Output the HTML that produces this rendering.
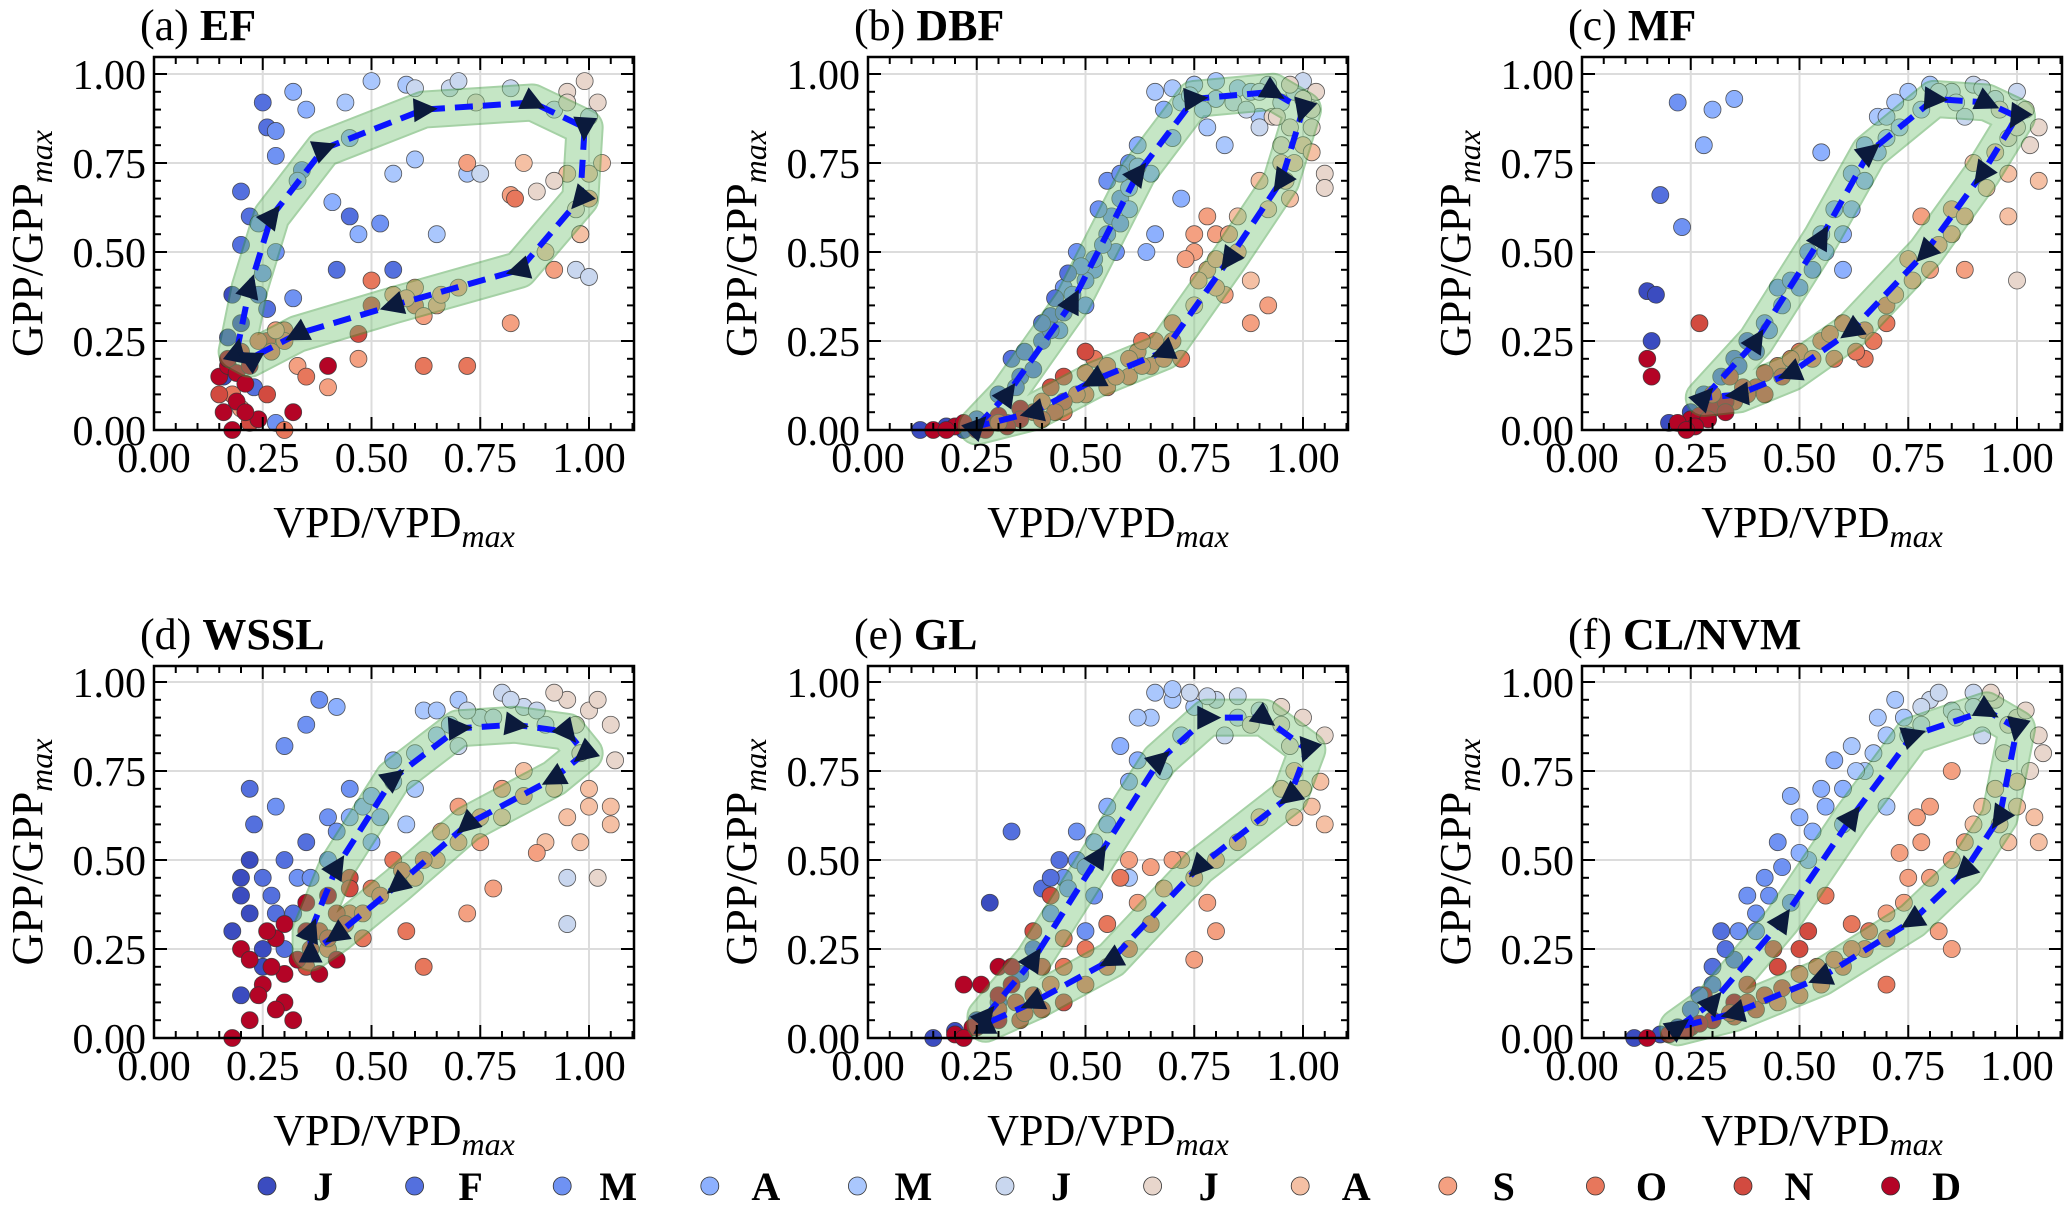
<!DOCTYPE html>
<html><head><meta charset="utf-8"><style>
html,body{margin:0;padding:0;background:#fff;}
svg{display:block;font-family:"Liberation Serif",serif;}
</style></head><body>
<svg id="chart" width="2067" height="1208" viewBox="0 0 2067 1208" xmlns="http://www.w3.org/2000/svg"></svg>
<script>
// ---------- data ----------
const monthLabels=["J","F","M","A","M","J","J","A","S","O","N","D"];
const monthColors=["#3b4cc0","#5470de","#6f92f3","#8db0fe","#aac7fd","#c9d7ef","#e8d6cc","#f5c0a4","#f4a081","#e7775c","#d24b40","#b40426"];
const panelTitles=[["(a) ","EF"],["(b) ","DBF"],["(c) ","MF"],["(d) ","WSSL"],["(e) ","GL"],["(f) ","CL/NVM"]];
const xTicks=[0,0.25,0.5,0.75,1.0];
const yTicks=[0,0.25,0.5,0.75,1.0];
const tickText=["0.00","0.25","0.50","0.75","1.00"];

const ptsA=[[0.17,0.26,0],[0.18,0.38,0],[0.2,0.3,0],[0.16,0.15,0],[0.2,0.67,1],[0.22,0.6,1],[0.2,0.52,1],[0.24,0.38,1],[0.26,0.34,1],[0.25,0.92,1],[0.26,0.85,1],[0.23,0.12,1],[0.28,0.84,2],[0.24,0.58,2],[0.28,0.5,2],[0.25,0.44,2],[0.28,0.77,2],[0.32,0.37,2],[0.34,0.73,2],[0.42,0.45,1],[0.45,0.6,1],[0.55,0.45,1],[0.52,0.58,2],[0.28,0.02,2],[0.32,0.95,3],[0.35,0.9,3],[0.33,0.7,3],[0.41,0.64,3],[0.47,0.55,3],[0.44,0.92,4],[0.5,0.98,4],[0.58,0.97,4],[0.55,0.72,4],[0.6,0.76,4],[0.65,0.55,4],[0.45,0.82,3],[0.72,0.72,4],[0.68,0.96,5],[0.7,0.98,5],[0.82,0.96,5],[0.75,0.72,5],[0.92,0.9,5],[1.0,0.88,5],[0.98,0.55,5],[0.97,0.45,5],[1.0,0.43,5],[0.74,0.92,6],[0.95,0.95,6],[1.02,0.92,6],[0.97,0.62,6],[0.88,0.67,6],[0.85,0.75,7],[0.95,0.72,7],[1.03,0.75,7],[0.98,0.55,7],[0.9,0.5,7],[0.72,0.75,8],[0.82,0.66,8],[0.6,0.4,8],[0.65,0.35,8],[0.55,0.38,8],[0.82,0.3,8],[0.92,0.45,8],[1.0,0.65,8],[0.47,0.2,8],[0.4,0.12,8],[0.33,0.18,8],[0.2,0.06,8],[0.83,0.65,9],[0.5,0.42,9],[0.6,0.35,9],[0.3,0.28,9],[0.35,0.15,9],[0.18,0.1,9],[0.3,0.0,9],[0.62,0.18,9],[0.72,0.18,9],[0.15,0.1,10],[0.26,0.25,10],[0.47,0.27,10],[0.5,0.35,10],[0.22,0.02,10],[0.15,0.15,11],[0.17,0.18,11],[0.19,0.16,11],[0.21,0.13,11],[0.16,0.05,11],[0.24,0.03,11],[0.32,0.05,11],[0.4,0.18,11],[0.18,0.0,11]];
const extraA=[[0.17,0.2,11],[0.2,0.22,10],[0.22,0.18,11],[0.24,0.25,9],[0.27,0.22,9],[0.3,0.25,9],[0.19,0.08,11],[0.21,0.05,11],[0.26,0.1,10],[0.28,0.28,8],[0.62,0.32,8],[0.58,0.37,8],[0.66,0.38,8],[0.7,0.4,8],[0.6,0.96,5],[0.95,0.92,6],[0.99,0.98,6],[0.92,0.7,6],[1.0,0.72,7]];
const ptsB=[[0.12,0,0],[0.18,0.01,0],[0.22,0.0,0],[0.25,0.03,1],[0.3,0.1,1],[0.35,0.15,1],[0.33,0.2,1],[0.4,0.25,1],[0.42,0.32,1],[0.38,0.17,1],[0.45,0.4,2],[0.48,0.5,2],[0.52,0.45,2],[0.55,0.55,2],[0.5,0.35,2],[0.58,0.65,2],[0.6,0.75,2],[0.57,0.5,2],[0.44,0.28,2],[0.55,0.7,2],[0.62,0.8,3],[0.6,0.62,3],[0.65,0.72,3],[0.68,0.9,3],[0.7,0.82,3],[0.66,0.55,3],[0.72,0.65,3],[0.64,0.5,3],[0.75,0.97,4],[0.8,0.93,4],[0.78,0.85,4],[0.85,0.96,4],[0.72,0.92,4],[0.9,0.88,4],[0.88,0.95,4],[0.82,0.8,4],[0.92,0.97,5],[0.95,0.92,5],[0.98,0.95,5],[0.9,0.85,5],[1.0,0.98,5],[0.97,0.85,6],[1.02,0.9,6],[0.95,0.8,6],[1.05,0.72,6],[1.03,0.95,6],[0.93,0.88,6],[1.0,0.8,7],[0.95,0.75,7],[0.97,0.65,7],[0.9,0.7,7],[0.85,0.6,7],[0.88,0.42,7],[0.75,0.35,7],[0.8,0.55,8],[0.85,0.5,8],[0.78,0.45,8],[0.82,0.38,8],[0.75,0.5,8],[0.88,0.3,8],[0.92,0.35,8],[0.7,0.3,9],[0.72,0.2,9],[0.65,0.18,9],[0.6,0.15,9],[0.55,0.12,9],[0.5,0.1,9],[0.62,0.22,9],[0.45,0.05,9],[0.52,0.2,9],[0.4,0.08,9],[0.38,0.05,10],[0.32,0.02,10],[0.45,0.15,10],[0.5,0.22,10],[0.42,0.12,10],[0.15,0,11],[0.2,0.01,11],[0.25,0.0,11],[0.28,0.02,11],[0.3,0.04,11],[0.35,0.06,11],[0.22,0.02,11]];
const extraB=[[0.42,0.28,1],[0.45,0.33,1],[0.47,0.38,2],[0.5,0.42,2],[0.52,0.48,2],[0.54,0.52,2],[0.56,0.6,2],[0.58,0.58,2],[0.6,0.68,3],[0.62,0.74,3],[0.58,0.72,2],[0.53,0.62,2],[0.49,0.46,2],[0.46,0.44,1],[0.43,0.37,1],[0.4,0.3,1],[0.36,0.22,1],[0.34,0.12,1],[0.66,0.95,4],[0.7,0.96,4],[0.74,0.94,4],[0.77,0.9,4],[0.8,0.98,4],[0.84,0.92,5],[0.87,0.9,5],[0.9,0.95,5],[0.94,0.88,6],[0.97,0.97,6],[1.0,0.93,6],[1.02,0.85,6],[0.98,0.75,7],[1.02,0.78,7],[0.96,0.7,7],[0.92,0.62,7],[1.05,0.68,6],[0.75,0.55,8],[0.78,0.6,8],[0.8,0.48,8],[0.76,0.42,8],[0.83,0.55,8],[0.73,0.48,8],[0.8,0.4,8],[0.7,0.25,9],[0.68,0.2,9],[0.66,0.25,9],[0.63,0.18,9],[0.6,0.2,9],[0.57,0.15,9],[0.55,0.18,9],[0.5,0.16,9],[0.48,0.1,9],[0.45,0.08,10],[0.43,0.05,10],[0.4,0.03,10],[0.35,0.03,11],[0.32,0.01,11],[0.27,0.0,11],[0.18,0.0,11],[0.3,0.02,10],[0.63,0.25,9]];
const ptsC=[[0.2,0.02,0],[0.25,0.05,0],[0.15,0.39,0],[0.17,0.38,0],[0.16,0.25,0],[0.28,0.1,1],[0.32,0.15,1],[0.35,0.2,1],[0.38,0.25,1],[0.18,0.66,1],[0.42,0.3,2],[0.45,0.4,2],[0.48,0.42,2],[0.52,0.5,2],[0.23,0.57,2],[0.22,0.92,2],[0.55,0.55,3],[0.58,0.62,3],[0.62,0.72,3],[0.65,0.8,3],[0.55,0.78,3],[0.6,0.45,3],[0.3,0.9,3],[0.28,0.8,3],[0.35,0.93,3],[0.68,0.88,4],[0.72,0.92,4],[0.75,0.95,4],[0.8,0.97,4],[0.7,0.82,4],[0.85,0.95,5],[0.9,0.97,5],[0.95,0.93,5],[1.0,0.95,5],[0.88,0.88,5],[1.02,0.9,6],[1.05,0.85,6],[0.98,0.82,6],[1.0,0.42,6],[0.95,0.78,7],[1.05,0.7,7],[0.9,0.75,7],[0.98,0.6,7],[0.85,0.62,8],[0.82,0.52,8],[0.75,0.48,8],[0.78,0.6,8],[0.88,0.45,8],[0.7,0.35,9],[0.65,0.28,9],[0.6,0.3,9],[0.55,0.25,9],[0.5,0.22,9],[0.58,0.2,9],[0.45,0.18,9],[0.65,0.2,9],[0.4,0.12,10],[0.35,0.08,10],[0.42,0.16,10],[0.38,0.1,10],[0.27,0.3,10],[0.25,0.03,11],[0.3,0.06,11],[0.27,0.04,11],[0.33,0.08,11],[0.22,0.02,11],[0.15,0.2,11],[0.16,0.15,11]];
const extraC=[[0.36,0.18,1],[0.4,0.22,1],[0.43,0.28,2],[0.46,0.35,2],[0.5,0.4,2],[0.53,0.45,2],[0.56,0.5,3],[0.6,0.55,3],[0.62,0.62,3],[0.65,0.7,3],[0.68,0.78,3],[0.7,0.88,4],[0.73,0.85,4],[0.78,0.9,4],[0.82,0.95,5],[0.86,0.92,5],[0.92,0.96,5],[0.96,0.9,6],[1.0,0.85,6],[1.03,0.8,6],[0.98,0.72,7],[0.93,0.68,7],[0.88,0.6,8],[0.85,0.55,8],[0.8,0.45,8],[0.76,0.42,8],[0.72,0.38,8],[0.7,0.3,9],[0.67,0.25,9],[0.63,0.22,9],[0.57,0.27,9],[0.53,0.2,9],[0.48,0.2,9],[0.46,0.15,10],[0.42,0.1,10],[0.37,0.12,10],[0.33,0.05,11],[0.29,0.03,11],[0.26,0.01,11],[0.24,0.0,11],[0.34,0.15,10],[0.3,0.1,10]];
const ptsD=[[0.2,0.4,0],[0.22,0.5,0],[0.18,0.3,0],[0.25,0.2,0],[0.2,0.12,0],[0.23,0.6,1],[0.25,0.45,1],[0.28,0.35,1],[0.3,0.25,1],[0.22,0.7,1],[0.35,0.55,1],[0.28,0.65,2],[0.3,0.82,2],[0.35,0.88,2],[0.38,0.95,2],[0.4,0.62,2],[0.33,0.45,2],[0.45,0.7,2],[0.42,0.93,3],[0.48,0.65,3],[0.5,0.55,3],[0.55,0.78,3],[0.52,0.62,3],[0.6,0.7,4],[0.65,0.85,4],[0.62,0.92,4],[0.7,0.95,4],[0.58,0.6,4],[0.75,0.9,5],[0.8,0.97,5],[0.85,0.93,5],[0.7,0.82,5],[0.9,0.88,5],[0.95,0.45,5],[0.95,0.32,5],[0.95,0.95,6],[1.0,0.92,6],[1.05,0.88,6],[0.98,0.8,6],[1.02,0.45,6],[0.85,0.75,7],[0.92,0.7,7],[1.0,0.65,7],[1.05,0.6,7],[0.8,0.62,7],[0.9,0.55,7],[0.7,0.65,8],[0.75,0.55,8],[0.65,0.5,8],[0.6,0.45,8],[0.78,0.42,8],[0.72,0.35,8],[0.88,0.52,8],[0.55,0.5,9],[0.5,0.42,9],[0.45,0.35,9],[0.58,0.3,9],[0.62,0.2,9],[0.4,0.25,9],[0.48,0.28,9],[0.38,0.3,10],[0.42,0.35,10],[0.35,0.2,10],[0.45,0.45,10],[0.2,0.25,11],[0.25,0.15,11],[0.3,0.1,11],[0.35,0.3,11],[0.38,0.18,11],[0.22,0.05,11],[0.18,0.0,11],[0.28,0.28,11],[0.42,0.22,11],[0.32,0.05,11]];
const extraD=[[0.2,0.45,0],[0.22,0.35,0],[0.25,0.25,0],[0.27,0.4,1],[0.3,0.5,1],[0.32,0.35,1],[0.36,0.45,2],[0.4,0.5,2],[0.42,0.58,2],[0.45,0.62,3],[0.5,0.68,3],[0.55,0.72,3],[0.6,0.8,4],[0.65,0.92,4],[0.68,0.88,4],[0.72,0.92,5],[0.78,0.9,5],[0.82,0.95,5],[0.88,0.92,5],[0.92,0.97,6],[0.97,0.88,6],[1.02,0.95,6],[1.06,0.78,6],[1.0,0.7,7],[0.95,0.62,7],[1.05,0.65,7],[0.98,0.55,7],[0.85,0.68,8],[0.8,0.7,8],[0.75,0.62,8],[0.7,0.55,8],[0.66,0.58,8],[0.62,0.5,9],[0.57,0.47,9],[0.52,0.4,9],[0.48,0.35,9],[0.44,0.32,10],[0.4,0.28,10],[0.36,0.25,10],[0.33,0.22,11],[0.3,0.18,11],[0.27,0.2,11],[0.24,0.12,11],[0.26,0.3,11],[0.22,0.22,11],[0.3,0.32,11],[0.35,0.38,11],[0.4,0.4,11],[0.28,0.08,11],[0.45,0.42,10]];
const ptsE=[[0.15,0.0,0],[0.2,0.02,0],[0.25,0.05,0],[0.28,0.38,0],[0.3,0.1,1],[0.35,0.18,1],[0.38,0.25,1],[0.33,0.58,1],[0.4,0.42,1],[0.42,0.35,2],[0.45,0.45,2],[0.48,0.5,2],[0.5,0.3,2],[0.55,0.65,3],[0.6,0.72,3],[0.58,0.82,3],[0.62,0.78,3],[0.52,0.55,3],[0.65,0.9,4],[0.7,0.95,4],[0.72,0.85,4],[0.68,0.75,4],[0.6,0.45,4],[0.75,0.93,4],[0.8,0.95,5],[0.85,0.9,5],[0.9,0.92,5],[0.82,0.85,5],[0.95,0.88,6],[1.0,0.9,6],[0.97,0.82,6],[1.05,0.85,6],[0.98,0.75,7],[1.02,0.65,7],[0.95,0.7,7],[1.05,0.6,7],[0.9,0.62,7],[0.85,0.55,8],[0.8,0.5,8],[0.75,0.45,8],[0.72,0.5,8],[0.78,0.38,8],[0.8,0.3,8],[0.75,0.22,8],[0.65,0.32,9],[0.6,0.25,9],[0.55,0.2,9],[0.5,0.15,9],[0.45,0.28,9],[0.58,0.45,9],[0.45,0.1,10],[0.4,0.08,10],[0.35,0.05,10],[0.42,0.4,10],[0.38,0.3,10],[0.2,0.01,11],[0.25,0.03,11],[0.3,0.05,11],[0.33,0.15,11],[0.3,0.2,11],[0.22,0.15,11]];
const extraE=[[0.42,0.45,1],[0.44,0.5,1],[0.46,0.42,2],[0.48,0.58,2],[0.5,0.48,2],[0.52,0.4,2],[0.55,0.6,3],[0.62,0.9,4],[0.66,0.97,4],[0.7,0.98,4],[0.74,0.97,5],[0.78,0.96,5],[0.85,0.96,5],[0.88,0.88,6],[0.95,0.93,6],[1.0,0.7,7],[0.98,0.62,7],[1.04,0.72,7],[0.7,0.5,8],[0.65,0.48,8],[0.6,0.5,8],[0.68,0.42,8],[0.62,0.38,8],[0.55,0.32,9],[0.5,0.25,9],[0.45,0.2,9],[0.42,0.15,9],[0.38,0.12,10],[0.34,0.1,10],[0.3,0.08,10],[0.27,0.05,11],[0.24,0.03,11],[0.3,0.12,11],[0.26,0.15,11],[0.33,0.2,11],[0.22,0.0,11],[0.36,0.07,10],[0.4,0.2,10]];
const ptsF=[[0.12,0,0],[0.18,0.01,0],[0.22,0.03,0],[0.25,0.08,1],[0.3,0.15,1],[0.35,0.22,1],[0.32,0.3,1],[0.38,0.4,2],[0.42,0.45,2],[0.45,0.55,2],[0.48,0.38,2],[0.4,0.3,2],[0.5,0.62,3],[0.55,0.7,3],[0.58,0.78,3],[0.52,0.5,3],[0.6,0.6,3],[0.48,0.68,3],[0.62,0.82,4],[0.68,0.9,4],[0.72,0.95,4],[0.65,0.75,4],[0.7,0.65,4],[0.75,0.85,4],[0.8,0.95,5],[0.85,0.92,5],[0.9,0.97,5],[0.78,0.88,5],[0.92,0.85,5],[0.95,0.95,6],[1.0,0.9,6],[1.05,0.85,6],[0.97,0.8,6],[1.03,0.75,6],[0.95,0.7,7],[1.0,0.65,7],[1.05,0.55,7],[0.9,0.6,7],[0.98,0.55,7],[0.85,0.75,8],[0.8,0.65,8],[0.78,0.55,8],[0.75,0.45,8],[0.82,0.3,8],[0.7,0.35,8],[0.85,0.25,8],[0.65,0.25,9],[0.6,0.2,9],[0.55,0.15,9],[0.5,0.12,9],[0.62,0.32,9],[0.45,0.1,9],[0.7,0.15,9],[0.4,0.08,10],[0.35,0.06,10],[0.45,0.2,10],[0.38,0.15,10],[0.5,0.25,10],[0.15,0,11],[0.2,0.01,11],[0.25,0.03,11],[0.3,0.05,11],[0.35,0.1,11],[0.28,0.12,11]];
const extraF=[[0.27,0.12,1],[0.3,0.2,1],[0.33,0.25,1],[0.36,0.3,2],[0.4,0.35,2],[0.43,0.4,2],[0.46,0.48,2],[0.5,0.52,3],[0.53,0.58,3],[0.56,0.65,3],[0.6,0.7,3],[0.63,0.75,4],[0.67,0.8,4],[0.7,0.85,4],[0.74,0.9,4],[0.78,0.93,5],[0.82,0.97,5],[0.86,0.9,5],[0.9,0.93,5],[0.94,0.97,6],[0.98,0.88,6],[1.02,0.92,6],[1.06,0.8,6],[1.0,0.72,7],[1.04,0.62,7],[0.96,0.6,7],[0.92,0.65,7],[0.88,0.55,8],[0.85,0.5,8],[0.8,0.45,8],[0.77,0.62,8],[0.73,0.52,8],[0.74,0.38,8],[0.7,0.28,9],[0.66,0.3,9],[0.62,0.25,9],[0.58,0.22,9],[0.54,0.2,9],[0.5,0.18,9],[0.46,0.14,10],[0.42,0.12,10],[0.38,0.1,10],[0.34,0.07,10],[0.3,0.05,11],[0.27,0.04,11],[0.24,0.02,11],[0.52,0.3,10],[0.56,0.4,9],[0.44,0.25,10]];

const loopA=[[0.19,0.22],[0.22,0.40],[0.27,0.60],[0.39,0.79],[0.62,0.90],[0.87,0.92],[0.99,0.85],[0.98,0.65],[0.84,0.45],[0.55,0.35],[0.33,0.27],[0.22,0.20]];
const loopB=[[0.25,0.01],[0.32,0.10],[0.47,0.36],[0.62,0.72],[0.75,0.93],[0.93,0.95],[1.0,0.90],[0.95,0.70],[0.83,0.48],[0.68,0.22],[0.52,0.14],[0.38,0.05]];
const loopC=[[0.28,0.09],[0.40,0.25],[0.55,0.54],[0.66,0.78],[0.81,0.93],[0.93,0.92],[1.0,0.88],[0.92,0.72],[0.79,0.50],[0.62,0.28],[0.48,0.16],[0.36,0.10]];
const loopD=[[0.36,0.30],[0.42,0.48],[0.55,0.73],[0.70,0.87],[0.83,0.88],[0.95,0.86],[0.99,0.80],[0.92,0.73],[0.72,0.60],[0.56,0.43],[0.42,0.29],[0.36,0.24]];
const loopE=[[0.27,0.06],[0.38,0.22],[0.53,0.51],[0.67,0.78],[0.78,0.90],[0.91,0.90],[1.01,0.81],[0.97,0.68],[0.76,0.48],[0.56,0.22],[0.38,0.10],[0.27,0.04]];
const loopF=[[0.22,0.03],[0.30,0.10],[0.46,0.33],[0.62,0.62],[0.76,0.85],[0.93,0.92],[1.0,0.87],[0.96,0.62],[0.88,0.47],[0.76,0.33],[0.55,0.17],[0.35,0.07]];

const allPts=[ptsA.concat(extraA),ptsB.concat(extraB),ptsC.concat(extraC),ptsD.concat(extraD),ptsE.concat(extraE),ptsF.concat(extraF)];
const allLoops=[loopA,loopB,loopC,loopD,loopE,loopF];

// ---------- layout ----------
const NS="http://www.w3.org/2000/svg";
const svg=document.getElementById("chart");
const colX=[154,868,1582], rowTop=[57,666], rowBot=[430,1038];
const BOXW=480, XMAX=BOXW/435, PXU=356;
function mk(tag,attrs,parent){const e=document.createElementNS(NS,tag);for(const k in attrs)e.setAttribute(k,attrs[k]);(parent||svg).appendChild(e);return e;}

allPts.forEach((pts,pi)=>{
  const x0=colX[pi%3], yb=rowBot[Math.floor(pi/3)], yt=rowTop[Math.floor(pi/3)];
  const sx=v=>x0+v*435, sy=v=>yb-v*PXU;
  const g=mk("g",{});
  
  
  xTicks.forEach(t=>{const l=mk("line",{x1:sx(t),x2:sx(t),y1:yt,y2:yb,stroke:"#dcdcdc","stroke-width":2},g);});
  yTicks.forEach(t=>{const l=mk("line",{x1:x0,x2:x0+BOXW,y1:sy(t),y2:sy(t),stroke:"#dcdcdc","stroke-width":2},g);});
  pts.forEach(p=>{
    const c=mk("circle",{cx:sx(p[0]),cy:sy(p[1]),r:8.5,fill:monthColors[p[2]],stroke:"#333","stroke-width":0.8,"stroke-opacity":0.8},g);
    
    
  });
  const loop=allLoops[pi];
  const d="M"+loop.map(q=>sx(q[0])+","+sy(q[1])).join(" L")+" Z";
  const band=mk("g",{opacity:0.45},g);
  
  
  mk("path",{d:d,fill:"none",stroke:"#3a9a3a","stroke-width":38,"stroke-linejoin":"round"},band);
  mk("path",{d:d,fill:"none",stroke:"#80c880","stroke-width":34,"stroke-linejoin":"round"},band);
  const dl=mk("path",{d:d,fill:"none",stroke:"#0a14ff","stroke-width":6,"stroke-dasharray":"18 10"},g);
  
  
  loop.forEach((q,i)=>{
    const n=loop[(i+1)%loop.length];
    const ang=Math.atan2(sy(n[1])-sy(q[1]),sx(n[0])-sx(q[0]))*180/Math.PI;
    const t=mk("polygon",{points:"14,0 -10,-12 -10,12",fill:"#0b1a3c",transform:`translate(${sx(q[0])},${sy(q[1])}) rotate(${ang})`},g);
    
    
  });
  const fr=mk("rect",{x:x0,y:yt,width:BOXW,height:yb-yt,fill:"none",stroke:"#000","stroke-width":2.5},g);
  
  
  for(let k=0;k<=22;k++){const v=k*0.05;if(v>XMAX)break;const L=(k%5==0)?13:7;
    mk("line",{x1:sx(v),x2:sx(v),y1:yb,y2:yb-L,stroke:"#000","stroke-width":2},g);
    mk("line",{x1:sx(v),x2:sx(v),y1:yt,y2:yt+L,stroke:"#000","stroke-width":2},g);}
  for(let k=0;k<=20;k++){const v=k*0.05;const L=(k%5==0)?13:7;
    mk("line",{x1:x0,x2:x0+L,y1:sy(v),y2:sy(v),stroke:"#000","stroke-width":2},g);
    mk("line",{x1:x0+BOXW,x2:x0+BOXW-L,y1:sy(v),y2:sy(v),stroke:"#000","stroke-width":2},g);}
  xTicks.forEach((t,i)=>{const e=mk("text",{x:sx(t),y:yb+42,"font-size":42,"text-anchor":"middle"},g);e.textContent=tickText[i];});
  yTicks.forEach((t,i)=>{const e=mk("text",{x:x0-8,y:sy(t)+15,"font-size":42,"text-anchor":"end"},g);e.textContent=tickText[i];});
  const xl=mk("text",{x:x0+BOXW/2,y:yb+107,"font-size":44,"text-anchor":"middle"},g);
  xl.innerHTML='VPD/VPD<tspan font-style="italic" font-size="32" dy="10">max</tspan>';
  
  
  const yc=(yt+yb)/2, yx=x0-112;
  const yl=mk("text",{x:yx,y:yc,"font-size":44,"text-anchor":"middle",transform:`rotate(-90 ${yx} ${yc})`},g);
  yl.innerHTML='GPP/GPP<tspan font-style="italic" font-size="32" dy="10">max</tspan>';
  
  
  const tt=mk("text",{x:x0-14,y:yt-17,"font-size":44},g);
  tt.innerHTML=panelTitles[pi][0]+'<tspan font-weight="bold">'+panelTitles[pi][1]+'</tspan>';
  
  
});

const lg=mk("g",{});


monthLabels.forEach((m,i)=>{
  const cx=267+i*147.6;
  const c=mk("circle",{cx:cx,cy:1186,r:9,fill:monthColors[i],stroke:"#333","stroke-width":0.8},lg);
  
  
  const t=mk("text",{x:cx+56,y:1200,"font-size":40,"font-weight":"bold","text-anchor":"middle"},lg);
  t.textContent=m;
  
  
});
</script>
</body></html>
